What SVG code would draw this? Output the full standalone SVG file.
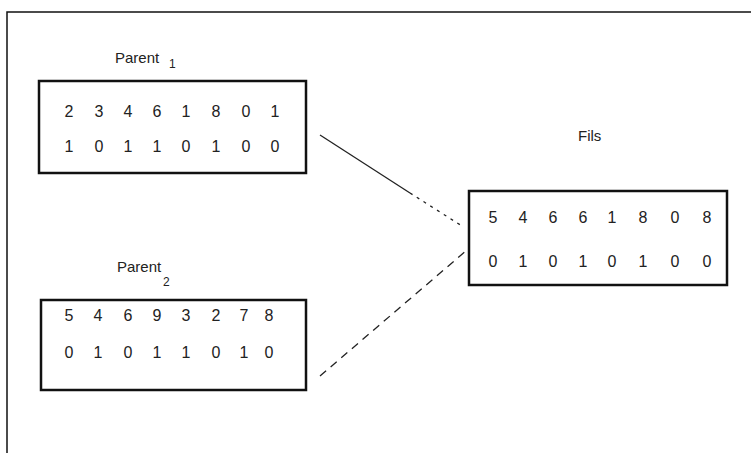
<svg xmlns="http://www.w3.org/2000/svg" width="751" height="453" viewBox="0 0 751 453">
<style>
.frame{fill:none;stroke:#111;stroke-width:1.5}
.box{fill:#fff;stroke:#111;stroke-width:2.5}
.lbl{font-family:"Liberation Sans",Arial,sans-serif;font-size:15px;fill:#222}
.sub{font-family:"Liberation Sans",Arial,sans-serif;font-size:12px;fill:#222}
.d{font-family:"Liberation Sans",Arial,sans-serif;font-size:16px;fill:#222;text-anchor:middle}
.c{fill:none;stroke:#222;stroke-width:1.3}
</style>
<rect width="751" height="453" fill="#fff"/>
<path class="frame" d="M7,453 V12 H751"/>
<g id="parent1">
<text class="lbl" x="115" y="63">Parent</text><text class="sub" x="169" y="68">1</text>
<rect class="box" x="39" y="81" width="267" height="92"/>
<text class="d" y="117"><tspan x="69">2</tspan><tspan x="99">3</tspan><tspan x="128">4</tspan><tspan x="157">6</tspan><tspan x="186">1</tspan><tspan x="216">8</tspan><tspan x="246">0</tspan><tspan x="275">1</tspan></text>
<text class="d" y="152"><tspan x="69">1</tspan><tspan x="99">0</tspan><tspan x="128">1</tspan><tspan x="157">1</tspan><tspan x="186">0</tspan><tspan x="216">1</tspan><tspan x="246">0</tspan><tspan x="275">0</tspan></text>
</g>
<g id="parent2">
<text class="lbl" x="117" y="272">Parent</text><text class="sub" x="163" y="286">2</text>
<rect class="box" x="41" y="300" width="265" height="90"/>
<text class="d" y="321"><tspan x="69">5</tspan><tspan x="98">4</tspan><tspan x="128">6</tspan><tspan x="157">9</tspan><tspan x="186">3</tspan><tspan x="216">2</tspan><tspan x="244">7</tspan><tspan x="269">8</tspan></text>
<text class="d" y="358"><tspan x="69">0</tspan><tspan x="98">1</tspan><tspan x="128">0</tspan><tspan x="157">1</tspan><tspan x="186">1</tspan><tspan x="216">0</tspan><tspan x="244">1</tspan><tspan x="269">0</tspan></text>
</g>
<g id="fils">
<text class="lbl" x="578" y="141">Fils</text>
<rect class="box" x="469" y="191" width="258" height="94"/>
<text class="d" y="223"><tspan x="493">5</tspan><tspan x="523">4</tspan><tspan x="553">6</tspan><tspan x="583">6</tspan><tspan x="612">1</tspan><tspan x="643">8</tspan><tspan x="675">0</tspan><tspan x="707">8</tspan></text>
<text class="d" y="267"><tspan x="493">0</tspan><tspan x="523">1</tspan><tspan x="553">0</tspan><tspan x="583">1</tspan><tspan x="612">0</tspan><tspan x="643">1</tspan><tspan x="675">0</tspan><tspan x="707">0</tspan></text>
</g>
<g id="connectors">
<path class="c" d="M320,135 L410,193"/>
<path class="c" d="M410,193 L462,226" stroke-dasharray="3 5"/>
<path class="c" d="M320,376 L467,250" stroke-dasharray="8 6"/>
</g>
</svg>
